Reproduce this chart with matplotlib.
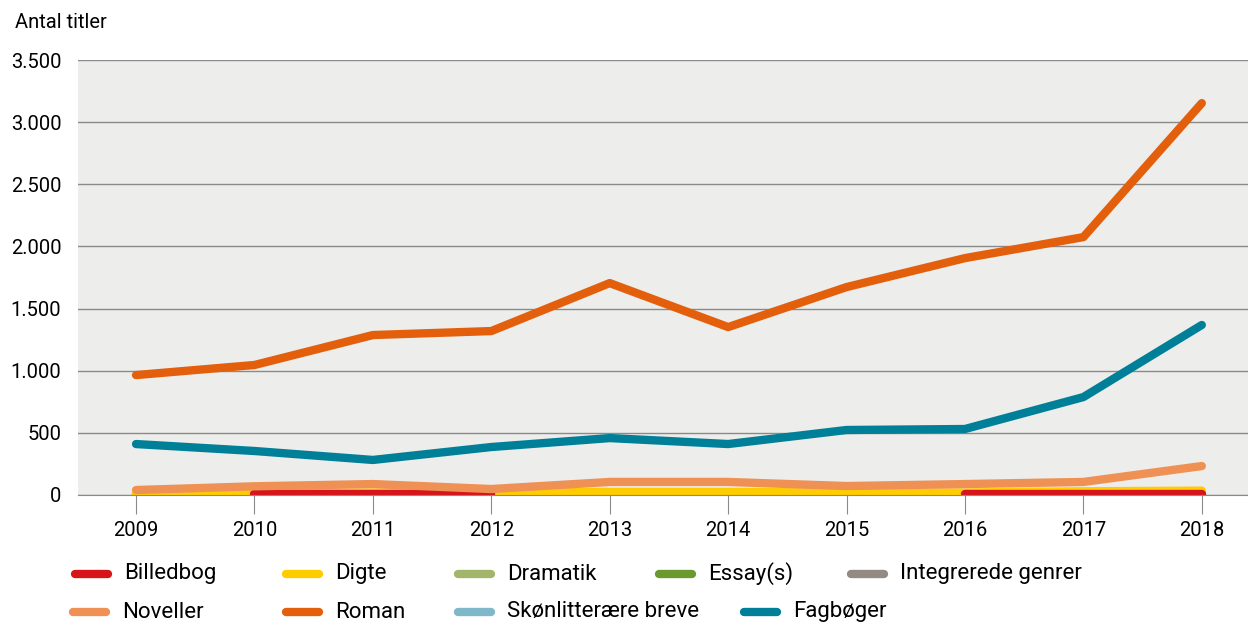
import matplotlib
matplotlib.use("Agg")
import matplotlib.pyplot as plt
from matplotlib.lines import Line2D
from matplotlib.ticker import FuncFormatter
import numpy as np

plt.rcParams['font.family'] = ['Roboto', 'DejaVu Sans']

years = [2009, 2010, 2011, 2012, 2013, 2014, 2015, 2016, 2017, 2018]
nan = np.nan
billedbog = [nan, 5, 5, 5, nan, nan, nan, 5, 5, 5]
digte = [15, 15, 20, 20, 25, 25, 20, 20, 30, 35]
dramatik = [5, 5, 5, 5, 5, 5, 5, 5, 5, 5]
essay = [3, 3, 3, 3, 3, 2, 2, 3, 3, 3]
integrerede = [1, 1, 1, 1, 1, 1, 1, 1, 1, 1]
noveller = [40, 70, 88, 48, 105, 105, 72, 88, 105, 233]
roman = [965, 1046, 1287, 1319, 1705, 1351, 1673, 1906, 2075, 3153]
skonlitt = [1, 1, 1, 1, 1, 1, 1, 1, 1, 1]
fagboger = [410, 354, 282, 386, 458, 410, 523, 531, 788, 1368]

names = ["Billedbog", "Digte", "Dramatik", "Essay(s)", "Integrerede genrer",
         "Noveller", "Roman", "Skønlitterære breve", "Fagbøger"]
colors = {"Billedbog": "#d7141a", "Digte": "#ffcc00", "Dramatik": "#a3b56b",
          "Essay(s)": "#6a9a2e", "Integrerede genrer": "#948a84",
          "Noveller": "#ef9155", "Roman": "#e35f0c",
          "Skønlitterære breve": "#7fb8c9", "Fagbøger": "#007f99"}
series = {"Billedbog": billedbog, "Digte": digte, "Dramatik": dramatik,
          "Essay(s)": essay, "Integrerede genrer": integrerede,
          "Noveller": noveller, "Roman": roman,
          "Skønlitterære breve": skonlitt, "Fagbøger": fagboger}
order = ["Integrerede genrer", "Skønlitterære breve", "Dramatik", "Essay(s)",
         "Digte", "Billedbog", "Noveller", "Fagbøger", "Roman"]

fig = plt.figure(figsize=(12.48, 6.25), dpi=100)
ax = fig.add_axes([78/1248, 1-495/625, 1170/1248, 435/625])
ax.set_facecolor("#ededeb")

for n in order:
    ax.plot(years, series[n], color=colors[n], lw=6, solid_capstyle="round",
            solid_joinstyle="round", zorder=3)

ax.set_ylim(0, 3500)
ax.set_xlim(2008.51, 2018.39)
ax.set_yticks(range(0, 3501, 500))
ax.yaxis.set_major_formatter(FuncFormatter(lambda v, p: f"{int(v):,}".replace(",", ".")))
ax.set_xticks(years)
ax.grid(axis="y", color="#8a8a8a", lw=1, zorder=1)
for s in ["left", "right", "top"]:
    ax.spines[s].set_visible(False)
ax.spines["bottom"].set_color("#8a8a8a")
ax.spines["bottom"].set_zorder(4)
ax.tick_params(axis="y", length=0, pad=12, labelsize=14.5)
ax.tick_params(axis="x", length=14, color="#8a8a8a", pad=5, labelsize=14.5)
ax.set_axisbelow(True)

fig.text(15/1248, 1-22/625, "Antal titler", fontsize=14.5, va="center", ha="left")

legend_pos = [
    ("Billedbog", 72, 574), ("Digte", 283, 574), ("Dramatik", 455, 574),
    ("Essay(s)", 656, 574), ("Integrerede genrer", 848, 574),
    ("Noveller", 70, 612), ("Roman", 283, 612), ("Skønlitterære breve", 455, 612),
    ("Fagbøger", 741, 612),
]
for n, x, y in legend_pos:
    yy = 1 - y/625
    fig.add_artist(Line2D([(x+3)/1248, (x+36)/1248], [yy, yy], color=colors[n], lw=6,
                          solid_capstyle="round", transform=fig.transFigure))
    fig.text((x+52)/1248, yy, n, fontsize=16, va="center", ha="left")

fig.savefig("out.png", dpi=100)
